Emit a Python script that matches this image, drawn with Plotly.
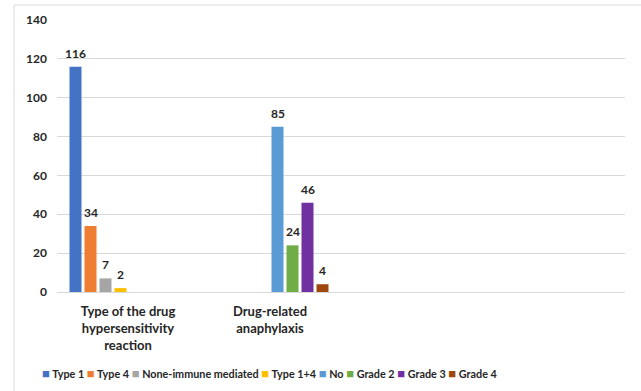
import plotly.graph_objects as go

# Category positions: two labelled groups plus two empty slots on the right
categories = ["Type of the drug<br>hypersensitivity<br>reaction", "Drug-related<br>anaphylaxis"]
cat_pos = [0, 1]

series_names = ["Type 1", "Type 4", "None-immune mediated", "Type 1+4",
                "No", "Grade 2", "Grade 3", "Grade 4"]
type_1 = [116, None]
type_4 = [34, None]
none_immune = [7, None]
type_1_4 = [2, None]
anaph_no = [None, 85]
grade_2 = [None, 24]
grade_3 = [None, 46]
grade_4 = [None, 4]
series_values = [type_1, type_4, none_immune, type_1_4, anaph_no, grade_2, grade_3, grade_4]

colors = ["#4472C4", "#ED7D31", "#A5A5A5", "#FFC000",
          "#5B9BD5", "#70AD47", "#7030A0", "#9E480E"]

y_ticks = [0, 20, 40, 60, 80, 100, 120, 140]

FONT = "Lato"
TXT = "#262626"

W, H = 641, 391
L, R, T, B = 57, 16, 20, 99
pw, ph = W - L - R, H - T - B

BARGAP = 0.155
n_series = len(series_names)
slot = (1 - BARGAP) / n_series


def px_x(px):
    return (px - L) / pw


def px_y(py):
    return (H - B - py) / ph


fig = go.Figure()
for i, (name, vals, col) in enumerate(zip(series_names, series_values, colors)):
    fig.add_trace(go.Bar(
        x=cat_pos, y=vals, name=name,
        marker=dict(color=col, line=dict(width=0)),
        showlegend=False,
    ))
    # value label above each bar, centred on its slot in the group
    for xc, v in zip(cat_pos, vals):
        if v is None:
            continue
        fig.add_annotation(
            x=xc + (i - (n_series - 1) / 2) * slot, y=v, xref="x", yref="y",
            text=str(v), showarrow=False, yanchor="bottom", yshift=4,
            font=dict(family=FONT, size=12, color=TXT, weight="bold"),
        )

# Legend line: coloured square glyphs followed by series names
legend_html = " ".join(
    f'<span style="color:{c};font-size:13px">■</span> {n}' for n, c in zip(series_names, colors)
)
fig.add_annotation(
    text=legend_html, xref="paper", yref="paper",
    x=px_x(40), y=px_y(373), xanchor="left", yanchor="middle",
    showarrow=False, font=dict(family=FONT, size=10.8, color=TXT, weight="bold"),
)

# Chart frame (left and top edges)
border = "#D9D9D9"
fig.add_shape(type="line", xref="paper", yref="paper",
              x0=px_x(14), x1=px_x(14), y0=px_y(5), y1=px_y(400),
              line=dict(color=border, width=1))
fig.add_shape(type="line", xref="paper", yref="paper",
              x0=px_x(14), x1=px_x(650), y0=px_y(5), y1=px_y(5),
              line=dict(color=border, width=1))

fig.update_layout(
    width=W, height=H,
    margin=dict(l=L, r=R, t=T, b=B),
    paper_bgcolor="white", plot_bgcolor="white",
    barmode="group", bargap=BARGAP, bargroupgap=0.2,
    font=dict(family=FONT, color=TXT),
)
fig.update_xaxes(
    range=[-0.5, 3.5], tickvals=cat_pos, ticktext=categories,
    showgrid=False, zeroline=False, showline=False, ticks="",
    ticklabelstandoff=10,
    tickfont=dict(family=FONT, size=13, color=TXT, weight="bold"),
)
fig.update_yaxes(
    range=[0, 140], tickvals=y_ticks,
    showgrid=True, gridcolor="#D9D9D9", gridwidth=1,
    zeroline=True, zerolinecolor="#D9D9D9", zerolinewidth=1,
    showline=False, ticks="", ticklabelstandoff=9,
    tickfont=dict(family=FONT, size=12, color=TXT, weight="bold"),
)

fig.write_html("out.html")
